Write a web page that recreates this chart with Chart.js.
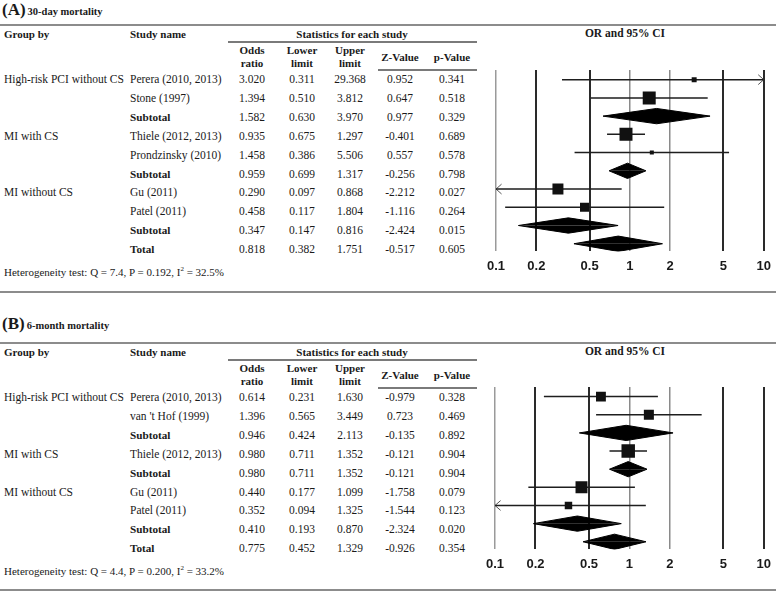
<!DOCTYPE html>
<html>
<head>
<meta charset="utf-8">
<script src="https://cdn.jsdelivr.net/npm/chart.js@4.4.1/dist/chart.umd.min.js"></script>
<style>
    body { margin: 0; background: #fff; width: 778px; height: 593px; overflow: hidden; position: relative;
           font-family: "Liberation Serif", "Times New Roman", serif; color: #1a1a1a; font-size: 11.5px; }
    .t { position: absolute; white-space: nowrap; line-height: 1; transform: translateY(-50%); }
    .c { transform: translate(-50%, -50%); text-align: center; }
    .b { font-weight: bold; }
    .rule { position: absolute; background: #8c8c8c; }
    canvas { position: absolute; }
</style>
</head>
<body>
<canvas id="plotA" width="298" height="221" style="left:480px;top:60px"></canvas>
<canvas id="plotB" width="299" height="202" style="left:479px;top:377px"></canvas>
<script>
/* ---- Panel A: 30-day mortality ---- */
const groupsA = ['High-risk PCI without CS', '', '', 'MI with CS', '', '', 'MI without CS', '', '', ''];
const studiesA = ['Perera (2010, 2013)', 'Stone (1997)', 'Subtotal', 'Thiele (2012, 2013)', 'Prondzinsky (2010)',
                  'Subtotal', 'Gu (2011)', 'Patel (2011)', 'Subtotal', 'Total'];
const oddsA  = [3.020, 1.394, 1.582, 0.935, 1.458, 0.959, 0.290, 0.458, 0.347, 0.818];
const lowerA = [0.311, 0.510, 0.630, 0.675, 0.386, 0.699, 0.097, 0.117, 0.147, 0.382];
const upperA = [29.368, 3.812, 3.970, 1.297, 5.506, 1.317, 0.868, 1.804, 0.816, 1.751];
const zA     = [0.952, 0.647, 0.977, -0.401, 0.557, -0.256, -2.212, -1.116, -2.424, -0.517];
const pA     = [0.341, 0.518, 0.329, 0.689, 0.578, 0.798, 0.027, 0.264, 0.015, 0.605];
// relative study weights (box area); null = pooled row (diamond)
const weightA = [3.8, 26, null, 26, 2.5, null, 18.6, 12.5, null, null];

/* ---- Panel B: 6-month mortality ---- */
const groupsB = ['High-risk PCI without CS', '', '', 'MI with CS', '', 'MI without CS', '', '', ''];
const studiesB = ["Perera (2010, 2013)", "van 't Hof (1999)", 'Subtotal', 'Thiele (2012, 2013)', 'Subtotal',
                  'Gu (2011)', 'Patel (2011)', 'Subtotal', 'Total'];
const oddsB  = [0.614, 1.396, 0.946, 0.980, 0.980, 0.440, 0.352, 0.410, 0.775];
const lowerB = [0.231, 0.565, 0.424, 0.711, 0.711, 0.177, 0.094, 0.193, 0.452];
const upperB = [1.630, 3.449, 2.113, 1.352, 1.352, 1.099, 1.325, 0.870, 1.329];
const zB     = [-0.979, 0.723, -0.135, -0.121, -0.121, -1.758, -1.544, -2.324, -0.926];
const pB     = [0.328, 0.469, 0.892, 0.904, 0.904, 0.079, 0.123, 0.020, 0.354];
const weightB = [15, 15.5, null, 28, null, 22, 8.6, null, null];

/* ---- Axis ---- */
const axisTicks  = [0.1, 0.2, 0.5, 1, 2, 5, 10];
const axisLabels = ['0.1', '0.2', '0.5', '1', '2', '5', '10'];

// text helpers
function put(x, y, html, cls, size) {
    const d = document.createElement('div');
    d.className = 't ' + (cls || '');
    d.style.left = x + 'px';
    d.style.top = y + 'px';
    if (size) d.style.fontSize = size + 'px';
    d.innerHTML = html;
    document.body.appendChild(d);
}
function rule(x, y, w, h, color) {
    const d = document.createElement('div');
    d.className = 'rule';
    d.style.cssText = `left:${x}px;top:${y}px;width:${w}px;height:${h}px;` + (color ? `background:${color}` : '');
    document.body.appendChild(d);
}

function buildTable(top, titleY, letter, title, groups, studies, odds, lower, upper, z, p, het) {
    put(2, titleY, `<span style="font-size:17px">(${letter})</span><span style="margin-left:2px">${title}</span>`, 'b', 10.5);
    rule(0, top + 24, 776, 2);
    put(4, top + 34, 'Group by', 'b', 11);
    put(130, top + 34, 'Study name', 'b', 11);
    put(352, top + 34, 'Statistics for each study', 'b c', 11);
    put(625, top + 34, 'OR and 95% CI', 'b c', 11.5);
    rule(228, top + 41, 249, 1.5, '#7a7a7a');

    const cols = [252, 302, 350, 400, 452];
    const heads = ['Odds<br>ratio', 'Lower<br>limit', 'Upper<br>limit', 'Z-Value', 'p-Value'];
    heads.forEach((h, k) => put(cols[k], top + 57, `<div style="line-height:13px">${h}</div>`, 'b c', 11));
    rule(378, top + 69, 99, 1.5, '#7a7a7a');

    const rowY = i => top + 80 + i * 18.9;
    studies.forEach((s, i) => {
        const y = rowY(i);
        if (groups[i]) put(4, y, groups[i]);
        const pooled = s === 'Subtotal' || s === 'Total';
        put(130, y, s, pooled ? 'b' : '', pooled ? 11.2 : null);
        [odds[i], lower[i], upper[i], z[i], p[i]].forEach((v, k) => put(cols[k], y, v.toFixed(3), 'c'));
    });
    put(4, rowY(studies.length - 1) + 21.5,
        `Heterogeneity test: Q = ${het[0]}, P = ${het[1]}, I<span style="font-size:7px;vertical-align:5px">2</span> = ${het[2]}%`,
        '', 11);
}

buildTable(0, 9, 'A', '30-day mortality', groupsA, studiesA, oddsA, lowerA, upperA, zA, pA, ['7.4', '0.192', '32.5']);
rule(0, 291, 776, 2);
buildTable(318, 323, 'B', '6-month mortality', groupsB, studiesB, oddsB, lowerB, upperB, zB, pB, ['4.4', '0.200', '33.2']);
rule(0, 589, 776, 2);

// grid style per tick (1 and 2 lighter, like the original)
const gridColors = ['#9a9a9a', '#2a2a2a', '#2a2a2a', '#8a8a8a', '#8a8a8a', '#2a2a2a', '#2a2a2a'];
const gridWidths = [1.5, 2, 2, 1.5, 1.5, 2, 2];

function drawForest(id, studies, odds, lower, upper, weight, yMax) {
    const xMin = axisTicks[0], xMax = axisTicks[axisTicks.length - 1];
    const arrowW = 1.1, arrowH = 0.27, halfH = 0.42;
    const squares = [], sizes = [], whiskers = [], arrows = [], diamonds = [];

    studies.forEach((name, i) => {
        const lo = Math.max(lower[i], xMin);
        const hi = Math.min(upper[i], xMax);
        if (weight[i] == null) {
            // diamond: top half and bottom half, each filled to the row line
            [-halfH, halfH].forEach(dy => diamonds.push({
                data: [{ x: lo, y: i }, { x: odds[i], y: i + dy }, { x: hi, y: i }],
                fill: { value: i },
                backgroundColor: '#000',
                borderColor: '#000',
                borderWidth: 1,
                pointRadius: 0,
                tension: 0
            }));
            return;
        }
        squares.push({ x: odds[i], y: i });
        sizes.push(1.8 * Math.sqrt(weight[i]));
        whiskers.push({ x: lo, y: i }, { x: hi, y: i }, { x: hi, y: null });
        if (lower[i] < xMin) {
            arrows.push({ x: xMin * arrowW, y: i - arrowH }, { x: xMin, y: i }, { x: xMin * arrowW, y: i + arrowH }, { x: xMin, y: null });
        }
        if (upper[i] > xMax) {
            arrows.push({ x: xMax / arrowW, y: i - arrowH }, { x: xMax, y: i }, { x: xMax / arrowW, y: i + arrowH }, { x: xMax, y: null });
        }
    });

    new Chart(document.getElementById(id), {
        type: 'line',
        data: {
            datasets: [
                {
                    data: squares,
                    showLine: false,
                    pointStyle: 'rect',
                    pointRadius: sizes,
                    pointBackgroundColor: '#111',
                    pointBorderWidth: 0
                },
                { data: whiskers, borderColor: '#1e1e1e', borderWidth: 1.5, pointRadius: 0, spanGaps: false },
                { data: arrows, borderColor: '#555', borderWidth: 1, pointRadius: 0, spanGaps: false },
                ...diamonds
            ]
        },
        options: {
            responsive: false,
            animation: false,
            events: [],
            layout: { padding: { left: 15, right: 10, top: 10, bottom: 0 } },
            plugins: { legend: { display: false }, tooltip: { enabled: false } },
            scales: {
                x: {
                    type: 'logarithmic',
                    min: xMin,
                    max: xMax,
                    afterBuildTicks: axis => { axis.ticks = axisTicks.map(v => ({ value: v })); },
                    ticks: {
                        autoSkip: false,
                        maxRotation: 0,
                        padding: 7,
                        color: '#1a1a1a',
                        font: { family: 'Liberation Sans', size: 13, weight: 'bold' },
                        callback: (v, idx) => axisLabels[idx]
                    },
                    grid: { color: gridColors, lineWidth: gridWidths, drawTicks: false },
                    border: { display: false }
                },
                y: {
                    type: 'linear',
                    reverse: true,
                    min: -0.53,
                    max: yMax,
                    display: false
                }
            }
        }
    });
}

drawForest('plotA', studiesA, oddsA, lowerA, upperA, weightA, 9.42);
drawForest('plotB', studiesB, oddsB, lowerB, upperB, weightB, 8.42);
</script>
</body>
</html>
